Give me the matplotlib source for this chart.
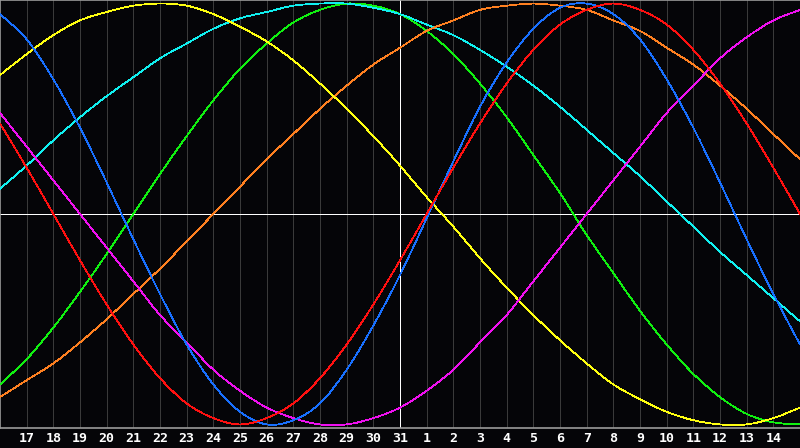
import matplotlib
matplotlib.use("Agg")
import matplotlib.pyplot as plt
import matplotlib.transforms as mtransforms
from matplotlib.path import Path
from matplotlib.patches import PathPatch

# day numbers along the x axis (first and last sit on the edges, not labelled)
days = [16, 17, 18, 19, 20, 21, 22, 23, 24, 25, 26, 27, 28, 29, 30, 31,
        1, 2, 3, 4, 5, 6, 7, 8, 9, 10, 11, 12, 13, 14, 15]
today = 31

# cycle values per day, in percent (-100 .. 100)
blue = [95, 83, 64, 41, 15, -12, -38, -62, -81, -94, -100, -98, -90, -74, -53, -29,
        -2, 25, 51, 72, 88, 98, 100, 95, 83, 64, 41, 15, -12, -38, -62]
red = [43, 22, 0, -22, -43, -62, -78, -90, -97, -100, -97, -90, -78, -62, -43, -22,
       0, 22, 43, 62, 78, 90, 97, 100, 97, 90, 78, 62, 43, 22, 0]
green = [-81, -69, -54, -37, -19, 0, 19, 37, 54, 69, 81, 91, 97, 100, 99, 95,
         87, 76, 62, 46, 28, 10, -10, -28, -46, -62, -76, -87, -95, -99, -100]
magenta = [48, 32, 16, 0, -16, -32, -48, -61, -74, -84, -92, -97, -100, -100, -97, -92,
           -84, -74, -61, -48, -32, -16, 0, 16, 32, 48, 61, 74, 84, 92, 97]
yellow = [66, 76, 85, 92, 96, 99, 100, 99, 95, 89, 82, 73, 62, 50, 37, 23,
          8, -6, -21, -35, -48, -60, -71, -81, -88, -94, -98, -100, -100, -97, -92]
orange = [-87, -79, -71, -61, -50, -38, -26, -13, 0, 13, 26, 38, 50, 61, 71, 79,
          87, 92, 97, 99, 100, 99, 97, 92, 87, 79, 71, 61, 50, 38, 26]
cyan = [12, 23, 35, 46, 56, 65, 74, 81, 88, 93, 96, 99, 100, 100, 98, 95,
        90, 85, 78, 70, 61, 51, 40, 29, 18, 6, -6, -18, -29, -40, -51]

curves = [
    (green, "#10f010"),
    (cyan, "#10f0f0"),
    (orange, "#ff8020"),
    (yellow, "#ffff10"),
    (magenta, "#f010f0"),
    (blue, "#1870ff"),
    (red, "#ff1010"),
]


def smooth_path(xs, ys):
    # catmull-rom through the daily points, as cubic bezier segments
    pts = list(zip(xs, ys))
    verts = [pts[0]]
    codes = [Path.MOVETO]
    n = len(pts)
    for i in range(n - 1):
        p0 = pts[max(i - 1, 0)]
        p1 = pts[i]
        p2 = pts[i + 1]
        p3 = pts[min(i + 2, n - 1)]
        c1 = (p1[0] + (p2[0] - p0[0]) / 6, p1[1] + (p2[1] - p0[1]) / 6)
        c2 = (p2[0] - (p3[0] - p1[0]) / 6, p2[1] - (p3[1] - p1[1]) / 6)
        verts += [c1, c2, p2]
        codes += [Path.CURVE4] * 3
    return Path(verts, codes)


bg = "#050508"
fig = plt.figure(figsize=(8, 4.48), dpi=100, facecolor=bg)
ax = fig.add_axes([0, 20 / 448, 1, 428 / 448])
ax.set_facecolor(bg)

x = list(range(len(days)))
today_x = days.index(today)

# day grid
for i in x[1:-1]:
    if i != today_x:
        ax.axvline(i, color="#3a3a3a", lw=0.5, antialiased=False, zorder=1)

ax.axhline(0, color="white", lw=0.6, antialiased=False, zorder=2)
ax.axvline(today_x, color="white", lw=0.6, antialiased=False, zorder=2)

for vals, col in curves:
    ax.add_patch(PathPatch(smooth_path(x, vals), fill=False, edgecolor=col,
                           lw=0.55, antialiased=False, zorder=3))

ax.set_xlim(0, len(days) - 1)
ax.set_ylim(-101.7, 101.7)
ax.set_xticks([])
ax.set_yticks([])

for side in ["top", "bottom", "left"]:
    ax.spines[side].set_color("#9a9a9a")
    ax.spines[side].set_linewidth(1.2)
ax.spines["right"].set_visible(False)

# day labels under the plot
trans = mtransforms.blended_transform_factory(ax.transData, ax.transAxes)
for i in x[1:-1]:
    ax.text(i, -10 / 428, str(days[i]), transform=trans, ha="center", va="center",
            color="white", fontsize=9.5, fontweight="bold", family="DejaVu Sans Mono",
            clip_on=False)

fig.savefig("out.png", dpi=100, facecolor=bg)
